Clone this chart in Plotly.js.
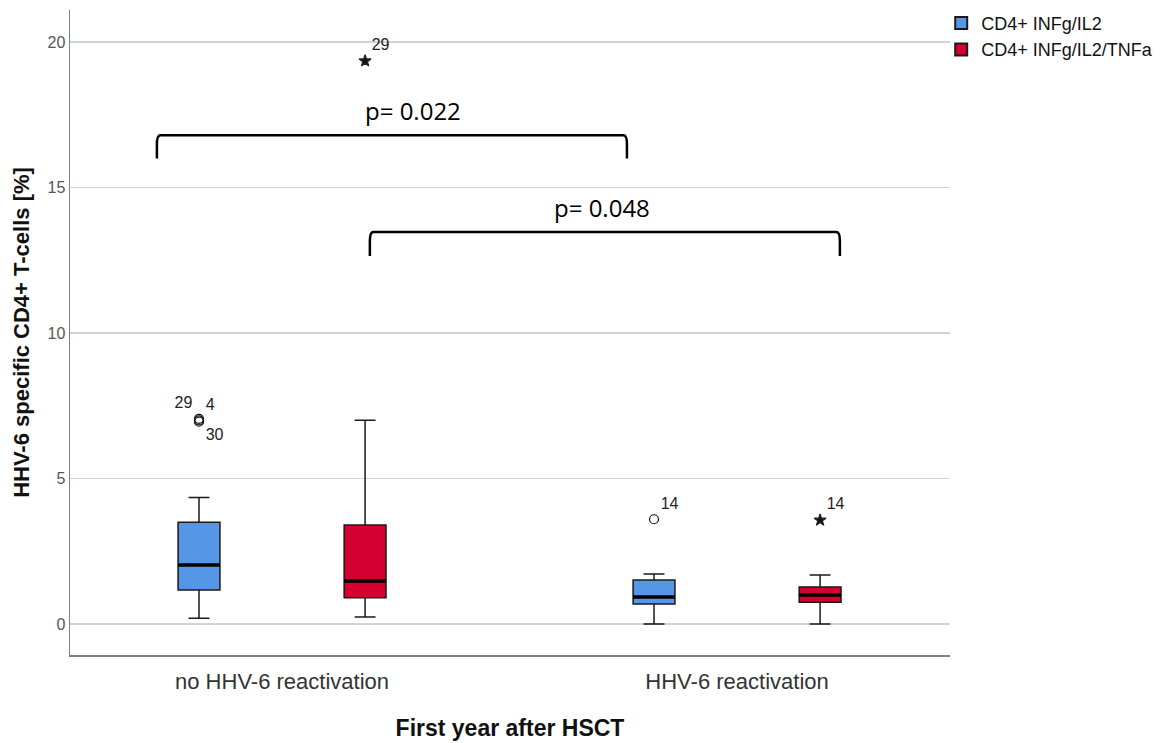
<!DOCTYPE html>
<html><head><meta charset="utf-8">
<script src="https://cdn.plot.ly/plotly-3.0.1.min.js"></script>
<style>html,body{margin:0;padding:0;background:#fff}#chart{width:1162px;height:743px}</style>
</head><body><div id="chart"></div>
<script>
// ---- data ----
const categories = ["no HHV-6 reactivation", "HHV-6 reactivation"];
const seriesNames = ["CD4+ INFg/IL2", "CD4+ INFg/IL2/TNFa"];
// per series: [group0, group1]
const lowerWhisker = [[0.20, 0.00], [0.24, 0.00]];
const q1Vals       = [[1.17, 0.69], [0.90, 0.75]];
const medianVals   = [[2.03, 0.93], [1.48, 1.00]];
const q3Vals       = [[3.50, 1.51], [3.40, 1.27]];
const upperWhisker = [[4.35, 1.72], [7.00, 1.68]];
// outliers: series index, category index, value, label, kind
const outSeries = [0, 0, 0, 0, 1, 1];
const outCat    = [0, 0, 0, 1, 0, 1];
const outVals   = [7.05, 7.0, 6.95, 3.60, 19.35, 3.57];
const outLabels = ["29", "4", "30", "14", "29", "14"];
const outKind   = ["circle", "circle", "circle", "circle", "star", "star"];
const pTexts = ["p= 0.022", "p= 0.048"];

// ---- style / layout constants ----
const colors = ["#5596E6", "#D5002F"];
const offsets = [-0.1825, 0.1825];
const boxW = 0.092;
const FONT = "Liberation Sans, Arial";

const traces = [];
for (let s = 0; s < 2; s++) {
  traces.push({
    type: "box",
    name: seriesNames[s],
    x: categories.map((c, i) => i + offsets[s]),
    q1: q1Vals[s], median: medianVals[s], q3: q3Vals[s],
    lowerfence: lowerWhisker[s], upperfence: upperWhisker[s],
    width: boxW,
    whiskerwidth: 0.5,
    fillcolor: colors[s],
    line: {color: "#1a1a1a", width: 1.5},
    boxpoints: false,
    hoverinfo: "skip",
    legendgroup: "s" + s
  });
}
// thick medians
const mx = [], my = [];
for (let s = 0; s < 2; s++) {
  categories.forEach((c, i) => {
    const p = i + offsets[s];
    mx.push(p - boxW / 2, p + boxW / 2, null);
    my.push(medianVals[s][i], medianVals[s][i], null);
  });
}
traces.push({type: "scatter", mode: "lines", x: mx, y: my, line: {color: "#000", width: 3.5},
  showlegend: false, hoverinfo: "skip"});

// outliers
const textPos = ["top left", "top right", "bottom right", "top right", "top right", "top right"];
traces.push({
  type: "scatter", mode: "markers+text",
  x: outVals.map((v, k) => outCat[k] + offsets[outSeries[k]]),
  y: outVals,
  text: outLabels,
  textposition: textPos,
  textfont: {family: FONT, size: 16, color: "#222"},
  marker: {
    symbol: outKind.map(k => k === "circle" ? "circle-open" : "star"),
    size: 9,
    color: "#111",
    line: {color: "#222", width: 1.2}
  },
  showlegend: false, hoverinfo: "skip", cliponaxis: false
});

const bracketStyle = {color: "#000", width: 2.5};
function bracket(x0, x1, yTop, yBot) {
  const r = 0.008, ry = 0.3;
  return {type: "path", xref: "x", yref: "y", line: bracketStyle,
    path: `M ${x0} ${yBot} L ${x0} ${yTop - ry} Q ${x0} ${yTop} ${x0 + r} ${yTop} L ${x1 - r} ${yTop} Q ${x1} ${yTop} ${x1} ${yTop - ry} L ${x1} ${yBot}`};
}

const layout = {
  width: 1162, height: 743,
  margin: {l: 70, r: 212, t: 10, b: 88, autoexpand: false},
  paper_bgcolor: "#fff", plot_bgcolor: "#fff",
  showlegend: true,
  legend: {x: 0.99, xanchor: "left", y: 1.008, yanchor: "top",
    font: {family: FONT, size: 18, color: "#111"},
    itemsizing: "constant", tracegroupgap: 0, bgcolor: "rgba(0,0,0,0)"},
  xaxis: {
    range: [-0.466, 1.468],
    tickvals: categories.map((c, i) => i),
    ticktext: categories,
    tickfont: {family: FONT, size: 22, color: "#333"},
    ticklabelstandoff: 6,
    showgrid: false, zeroline: false,
    showline: true, linecolor: "#808080", linewidth: 1.5,
    ticks: "", ticklen: 0,
    title: {text: "First year after HSCT", font: {family: FONT, size: 23, color: "#111", weight: "bold"}, standoff: 27}
  },
  yaxis: {
    range: [-1.065, 21.1],
    tickvals: [0, 5, 10, 15, 20],
    tickfont: {family: FONT, size: 16, color: "#555"},
    showgrid: true, gridcolor: "#d3d3d3", gridwidth: 1.5,
    zeroline: false,
    showline: true, linecolor: "#808080", linewidth: 1.5,
    ticks: "", ticklen: 0,
    title: {text: "HHV-6 specific CD4+ T-cells [%]", font: {family: FONT, size: 22, color: "#111", weight: "bold"}, standoff: 12}
  },
  shapes: [
    bracket(-0.275, 0.758, 16.8, 16.0),
    bracket(0.193, 1.226, 13.47, 12.65)
  ],
  annotations: [
    {x: 0.288, y: 17.66, xref: "x", yref: "y", text: pTexts[0], showarrow: false,
      font: {family: "Open Sans, Noto Sans", size: 24, color: "#000"}, xanchor: "center", yanchor: "middle"},
    {x: 0.703, y: 14.3, xref: "x", yref: "y", text: pTexts[1], showarrow: false,
      font: {family: "Open Sans, Noto Sans", size: 24, color: "#000"}, xanchor: "center", yanchor: "middle"}
  ]
};

Plotly.newPlot("chart", traces, layout, {staticPlot: true, displayModeBar: false});
</script></body></html>
